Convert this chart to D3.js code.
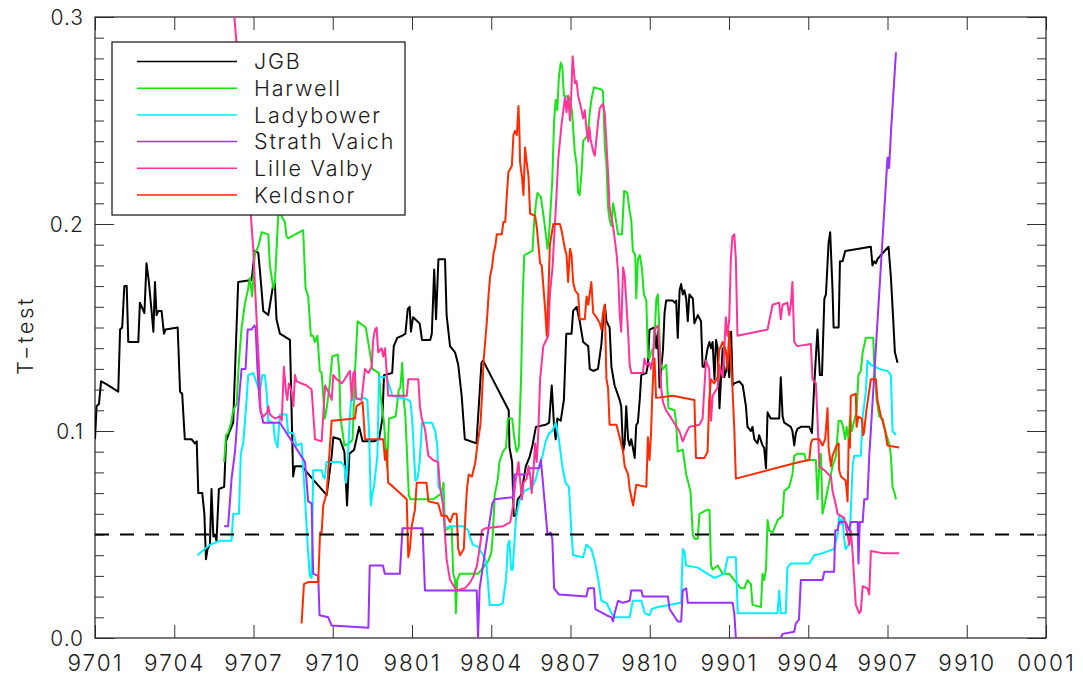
<!DOCTYPE html>
<html>
<head>
<meta charset="utf-8">
<script src="https://cdn.jsdelivr.net/npm/d3@7"></script>
<style>
  body { margin: 0; background: #fff; }
  svg text { font-family: Inter, "DejaVu Sans", sans-serif; font-weight: 300; fill: #1a1a1a; }
</style>
</head>
<body>
<svg id="chart"></svg>
<script>
// months counted from Jan 1997, T-test values
const tickMonths = [0, 3, 6, 9, 12, 15, 18, 21, 24, 27, 30, 33, 36];
const tickLabels = ["9701", "9704", "9707", "9710", "9801", "9804", "9807", "9810", "9901", "9904", "9907", "9910", "0001"];
const yMajor = [0, 0.1, 0.2, 0.3];
const threshold = 0.05;

const seriesNames = ["JGB", "Harwell", "Ladybower", "Strath Vaich", "Lille Valby", "Keldsnor"];
const seriesColors = ["#000000", "#18e418", "#00f0ff", "#9b30ff", "#ff3399", "#ff2a00"];

const jgb = [[0,0.096],[0.06,0.112],[0.15,0.113],[0.23,0.124],[0.38,0.123],[0.88,0.119],[0.95,0.149],[1.03,0.150],[1.11,0.170],[1.2,0.170],[1.26,0.143],[1.64,0.143],[1.7,0.162],[1.87,0.157],[1.95,0.181],[2.04,0.172],[2.12,0.161],[2.21,0.148],[2.27,0.172],[2.33,0.156],[2.4,0.158],[2.52,0.158],[2.61,0.147],[2.67,0.149],[3.13,0.150],[3.22,0.119],[3.3,0.118],[3.4,0.096],[3.66,0.096],[3.78,0.094],[3.85,0.095],[3.91,0.070],[4.06,0.070],[4.14,0.060],[4.2,0.038],[4.26,0.043],[4.35,0.045],[4.41,0.072],[4.48,0.049],[4.54,0.050],[4.6,0.047],[4.69,0.072],[4.89,0.073],[4.96,0.095],[5.1,0.100],[5.23,0.104],[5.42,0.172],[5.93,0.173],[6.05,0.187],[6.18,0.186],[6.24,0.178],[6.37,0.158],[6.56,0.156],[6.75,0.171],[6.81,0.171],[6.87,0.154],[7.0,0.147],[7.38,0.144],[7.5,0.078],[7.57,0.083],[7.82,0.083],[8.77,0.069],[8.96,0.088],[9.02,0.097],[9.27,0.096],[9.44,0.090],[9.54,0.064],[9.63,0.089],[9.81,0.091],[10.0,0.102],[10.13,0.095],[10.56,0.095],[10.75,0.096],[10.88,0.106],[10.94,0.127],[11.25,0.128],[11.31,0.141],[11.44,0.145],[11.63,0.146],[11.75,0.147],[11.84,0.159],[11.91,0.160],[11.96,0.148],[12.04,0.155],[12.29,0.152],[12.38,0.144],[12.69,0.144],[12.75,0.147],[12.84,0.178],[12.91,0.154],[13.0,0.183],[13.25,0.183],[13.31,0.156],[13.44,0.141],[13.63,0.138],[13.75,0.132],[13.88,0.117],[14.0,0.096],[14.44,0.094],[14.63,0.133],[14.69,0.134],[15.66,0.110],[15.69,0.092],[15.79,0.085],[15.85,0.059],[15.94,0.059],[16.0,0.067],[16.13,0.069],[16.31,0.083],[16.44,0.087],[16.56,0.093],[16.69,0.102],[17.06,0.103],[17.19,0.104],[17.29,0.122],[17.38,0.102],[17.44,0.096],[17.5,0.106],[17.63,0.105],[17.75,0.115],[17.84,0.147],[18.04,0.147],[18.1,0.158],[18.23,0.160],[18.35,0.153],[18.48,0.143],[18.67,0.141],[18.73,0.130],[18.86,0.129],[19.04,0.130],[19.17,0.142],[19.23,0.153],[19.3,0.161],[19.36,0.153],[19.48,0.150],[19.55,0.131],[19.67,0.122],[19.86,0.115],[19.92,0.112],[19.99,0.090],[20.05,0.094],[20.11,0.112],[20.18,0.096],[20.24,0.093],[20.3,0.096],[20.36,0.092],[20.43,0.087],[20.49,0.103],[20.55,0.104],[20.62,0.115],[20.68,0.127],[20.87,0.128],[20.93,0.132],[20.99,0.149],[21.18,0.150],[21.25,0.140],[21.31,0.148],[21.37,0.121],[21.43,0.130],[21.5,0.139],[21.56,0.157],[21.62,0.163],[21.87,0.163],[21.94,0.162],[22.0,0.163],[22.06,0.145],[22.13,0.168],[22.19,0.171],[22.25,0.166],[22.31,0.168],[22.38,0.164],[22.44,0.153],[22.5,0.166],[22.63,0.164],[22.69,0.152],[22.82,0.156],[22.94,0.153],[23.0,0.131],[23.07,0.131],[23.19,0.140],[23.26,0.143],[23.32,0.140],[23.38,0.143],[23.45,0.125],[23.51,0.144],[23.57,0.140],[23.64,0.111],[23.7,0.126],[23.76,0.140],[23.82,0.126],[23.89,0.129],[23.95,0.134],[24.01,0.126],[24.08,0.148],[24.14,0.122],[24.2,0.123],[24.39,0.124],[24.52,0.122],[24.64,0.112],[24.7,0.102],[24.83,0.100],[24.89,0.102],[24.96,0.096],[25.08,0.094],[25.14,0.098],[25.27,0.093],[25.33,0.092],[25.4,0.082],[25.46,0.109],[25.58,0.106],[25.9,0.106],[25.96,0.126],[26.03,0.107],[26.09,0.104],[26.34,0.102],[26.4,0.100],[26.47,0.093],[26.53,0.099],[26.59,0.101],[26.72,0.102],[27.04,0.102],[27.14,0.099],[27.23,0.123],[27.35,0.149],[27.44,0.127],[27.52,0.127],[27.61,0.164],[27.67,0.166],[27.77,0.191],[27.83,0.196],[27.92,0.168],[27.96,0.150],[28.15,0.150],[28.2,0.182],[28.3,0.182],[28.4,0.187],[29.37,0.189],[29.43,0.180],[29.5,0.182],[29.56,0.181],[29.62,0.183],[29.75,0.185],[30.04,0.189],[30.13,0.174],[30.22,0.153],[30.28,0.138],[30.38,0.133]];

const harwell = [[4.89,0.085],[4.96,0.098],[5.04,0.099],[5.15,0.104],[5.23,0.110],[5.36,0.113],[5.45,0.134],[5.55,0.150],[5.67,0.161],[5.8,0.169],[5.86,0.174],[5.95,0.165],[6.05,0.186],[6.18,0.189],[6.31,0.196],[6.56,0.195],[6.62,0.180],[6.75,0.169],[6.81,0.172],[6.94,0.205],[7.0,0.207],[7.09,0.203],[7.19,0.201],[7.25,0.194],[7.31,0.193],[7.88,0.197],[7.97,0.169],[8.07,0.165],[8.17,0.146],[8.26,0.146],[8.32,0.143],[8.42,0.146],[8.51,0.129],[8.58,0.128],[8.7,0.106],[8.76,0.110],[8.89,0.123],[8.98,0.136],[9.19,0.137],[9.25,0.128],[9.29,0.107],[9.44,0.093],[9.63,0.094],[9.75,0.096],[9.84,0.128],[9.94,0.153],[10.25,0.150],[10.38,0.140],[10.5,0.130],[10.75,0.128],[10.81,0.117],[10.94,0.104],[11.06,0.082],[11.13,0.106],[11.38,0.107],[11.5,0.120],[11.56,0.121],[11.63,0.133],[11.69,0.115],[11.75,0.107],[11.88,0.069],[11.94,0.067],[12.81,0.067],[13.13,0.070],[13.19,0.075],[13.25,0.052],[13.5,0.054],[13.56,0.031],[13.63,0.028],[13.66,0.012],[13.71,0.028],[13.81,0.031],[14.5,0.031],[14.69,0.034],[14.88,0.037],[15.0,0.041],[15.06,0.050],[15.13,0.069],[15.25,0.077],[15.31,0.085],[15.44,0.090],[15.56,0.092],[15.63,0.106],[15.79,0.106],[15.88,0.096],[15.96,0.090],[16.04,0.092],[16.13,0.126],[16.19,0.164],[16.25,0.185],[16.56,0.187],[16.63,0.202],[16.69,0.210],[16.75,0.215],[16.88,0.213],[17.0,0.202],[17.13,0.188],[17.19,0.195],[17.31,0.221],[17.38,0.250],[17.44,0.260],[17.5,0.255],[17.56,0.271],[17.63,0.278],[17.69,0.276],[17.75,0.262],[17.97,0.261],[18.06,0.254],[18.16,0.235],[18.23,0.229],[18.29,0.215],[18.35,0.214],[18.42,0.225],[18.48,0.240],[18.6,0.242],[18.67,0.245],[18.73,0.254],[18.79,0.260],[18.89,0.266],[19.17,0.265],[19.23,0.264],[19.3,0.237],[19.36,0.229],[19.42,0.208],[19.48,0.202],[19.55,0.199],[19.61,0.210],[19.67,0.206],[19.8,0.195],[19.95,0.195],[20.03,0.216],[20.15,0.215],[20.24,0.206],[20.3,0.202],[20.36,0.187],[20.45,0.185],[20.49,0.164],[20.55,0.183],[20.62,0.185],[20.7,0.179],[20.78,0.166],[20.87,0.163],[20.93,0.136],[20.99,0.135],[21.08,0.139],[21.16,0.140],[21.25,0.164],[21.31,0.166],[21.41,0.132],[21.5,0.130],[21.62,0.132],[21.71,0.111],[21.94,0.110],[22.0,0.104],[22.06,0.090],[22.25,0.091],[22.38,0.079],[22.54,0.071],[22.63,0.050],[22.69,0.048],[22.82,0.048],[22.88,0.060],[23.19,0.062],[23.26,0.062],[23.32,0.035],[23.38,0.033],[23.57,0.035],[23.76,0.031],[24.01,0.031],[24.2,0.028],[24.45,0.024],[24.58,0.024],[24.7,0.028],[24.83,0.026],[24.89,0.016],[25.21,0.015],[25.27,0.031],[25.33,0.028],[25.4,0.033],[25.46,0.057],[25.52,0.052],[25.65,0.051],[25.84,0.057],[26.03,0.059],[26.09,0.071],[26.28,0.073],[26.4,0.079],[26.47,0.088],[26.59,0.089],[26.85,0.089],[26.91,0.086],[27.29,0.086],[27.35,0.067],[27.44,0.088],[27.48,0.089],[27.54,0.060],[27.61,0.064],[27.79,0.075],[27.92,0.083],[28.05,0.088],[28.15,0.105],[28.24,0.105],[28.3,0.103],[28.4,0.096],[28.45,0.102],[28.53,0.096],[28.58,0.107],[28.65,0.100],[28.78,0.107],[28.83,0.109],[28.9,0.127],[28.99,0.129],[29.06,0.138],[29.18,0.145],[29.46,0.145],[29.5,0.132],[29.59,0.115],[29.69,0.107],[29.81,0.106],[29.96,0.098],[30.06,0.094],[30.13,0.088],[30.19,0.073],[30.25,0.071],[30.32,0.067]];

const ladybower = [[3.88,0.040],[4.35,0.045],[4.73,0.047],[5.17,0.047],[5.23,0.060],[5.45,0.060],[5.52,0.089],[5.61,0.094],[5.74,0.115],[5.8,0.127],[5.99,0.128],[6.18,0.121],[6.24,0.118],[6.33,0.127],[6.43,0.127],[6.49,0.120],[6.56,0.105],[6.75,0.104],[6.81,0.096],[6.91,0.092],[7.0,0.108],[7.25,0.108],[7.31,0.099],[7.5,0.099],[7.63,0.093],[7.82,0.094],[7.94,0.070],[8.05,0.045],[8.13,0.030],[8.2,0.029],[8.26,0.081],[8.58,0.081],[8.64,0.078],[8.7,0.077],[8.76,0.085],[9.31,0.085],[9.44,0.083],[9.5,0.075],[9.56,0.084],[9.63,0.102],[9.69,0.115],[10.19,0.116],[10.31,0.115],[10.38,0.098],[10.44,0.064],[10.5,0.070],[10.56,0.073],[10.69,0.088],[10.75,0.126],[11.0,0.126],[11.06,0.125],[11.19,0.120],[11.25,0.117],[11.88,0.115],[11.94,0.114],[12.0,0.107],[12.13,0.076],[12.21,0.077],[12.29,0.085],[12.38,0.104],[12.75,0.104],[12.88,0.100],[12.96,0.092],[13.0,0.073],[13.13,0.071],[13.19,0.062],[13.25,0.053],[13.44,0.054],[13.94,0.054],[14.13,0.052],[14.19,0.049],[14.31,0.045],[14.5,0.044],[14.69,0.040],[14.81,0.037],[14.88,0.026],[14.94,0.016],[15.31,0.016],[15.44,0.017],[15.5,0.023],[15.56,0.028],[15.63,0.045],[15.69,0.047],[15.75,0.033],[15.81,0.033],[15.88,0.047],[15.94,0.058],[16.06,0.066],[16.25,0.071],[16.56,0.073],[16.69,0.077],[16.81,0.083],[16.94,0.088],[17.06,0.095],[17.19,0.099],[17.31,0.100],[17.44,0.104],[17.56,0.096],[17.69,0.083],[17.81,0.075],[17.94,0.073],[18.04,0.050],[18.1,0.040],[18.48,0.039],[18.6,0.045],[18.79,0.043],[18.92,0.037],[19.04,0.029],[19.17,0.018],[19.36,0.017],[19.55,0.012],[19.67,0.010],[20.24,0.010],[20.3,0.014],[20.36,0.018],[20.68,0.018],[20.81,0.012],[20.99,0.011],[21.08,0.014],[21.31,0.015],[22.19,0.017],[22.25,0.043],[22.31,0.042],[22.38,0.035],[22.82,0.034],[23.19,0.031],[23.45,0.029],[23.82,0.031],[23.95,0.039],[24.26,0.039],[24.33,0.012],[25.84,0.012],[25.9,0.023],[25.96,0.012],[26.15,0.012],[26.21,0.034],[26.34,0.036],[27.04,0.036],[27.23,0.040],[27.54,0.041],[27.98,0.043],[28.05,0.047],[28.11,0.050],[28.17,0.059],[28.24,0.055],[28.3,0.058],[28.36,0.048],[28.42,0.043],[28.53,0.045],[28.58,0.052],[28.68,0.083],[28.74,0.088],[28.99,0.088],[29.06,0.107],[29.18,0.119],[29.24,0.134],[29.37,0.132],[29.69,0.130],[30.0,0.129],[30.13,0.127],[30.19,0.100],[30.32,0.098]];

const strathVaich = [[4.89,0.054],[5.04,0.054],[5.17,0.077],[5.3,0.090],[5.42,0.111],[5.55,0.130],[5.7,0.130],[5.78,0.149],[5.93,0.149],[6.03,0.151],[6.08,0.150],[6.15,0.130],[6.24,0.112],[6.37,0.104],[7.0,0.104],[7.95,0.085],[8.07,0.066],[8.2,0.065],[8.26,0.031],[8.45,0.030],[8.5,0.011],[8.83,0.010],[8.96,0.006],[10.35,0.005],[10.4,0.035],[10.9,0.035],[10.97,0.031],[11.54,0.031],[11.64,0.053],[12.4,0.053],[12.49,0.023],[14.45,0.023],[14.5,0.0],[14.56,0.024],[15.04,0.065],[15.13,0.067],[15.81,0.068],[15.88,0.079],[16.38,0.079],[16.44,0.082],[16.81,0.082],[16.88,0.086],[17.13,0.050],[17.25,0.051],[17.31,0.048],[17.38,0.024],[17.56,0.021],[18.6,0.020],[18.67,0.024],[18.89,0.024],[18.94,0.014],[19.36,0.011],[19.55,0.010],[19.61,0.008],[19.67,0.012],[19.8,0.018],[19.99,0.017],[20.24,0.018],[20.3,0.023],[20.68,0.023],[20.74,0.020],[21.69,0.020],[21.75,0.014],[22.06,0.008],[22.19,0.008],[22.25,0.023],[22.38,0.024],[22.44,0.017],[24.14,0.017],[24.2,0.012],[24.26,0.0],[25.96,0.0],[26.03,0.002],[26.47,0.003],[26.53,0.007],[26.65,0.009],[26.72,0.028],[27.54,0.028],[27.61,0.032],[27.98,0.032],[28.02,0.052],[28.11,0.052],[28.17,0.056],[28.42,0.056],[28.55,0.052],[28.61,0.056],[28.87,0.056],[28.9,0.036],[28.95,0.056],[29.06,0.056],[29.12,0.067],[29.24,0.067],[29.31,0.088],[30.0,0.232],[30.04,0.232],[30.06,0.227],[30.13,0.244],[30.32,0.283]];

const lilleValby = [[5.2,0.312],[5.34,0.290],[5.89,0.206],[5.99,0.188],[6.06,0.169],[6.14,0.148],[6.22,0.128],[6.27,0.109],[6.37,0.107],[6.52,0.109],[6.56,0.112],[6.62,0.108],[6.81,0.106],[7.0,0.107],[7.07,0.105],[7.15,0.131],[7.23,0.119],[7.28,0.115],[7.34,0.123],[7.44,0.119],[7.51,0.112],[7.57,0.127],[7.63,0.124],[8.01,0.122],[8.2,0.120],[8.33,0.096],[8.58,0.095],[8.71,0.122],[8.83,0.119],[8.96,0.115],[9.02,0.127],[9.15,0.125],[9.34,0.123],[9.46,0.125],[9.59,0.128],[9.65,0.129],[9.72,0.115],[9.78,0.128],[9.84,0.129],[9.88,0.116],[10.09,0.115],[10.22,0.130],[10.35,0.128],[10.47,0.131],[10.53,0.144],[10.6,0.149],[10.66,0.150],[10.72,0.138],[10.85,0.140],[10.91,0.136],[10.98,0.140],[11.1,0.117],[11.8,0.117],[11.86,0.125],[12.24,0.125],[12.3,0.112],[12.37,0.106],[12.49,0.101],[12.62,0.088],[12.8,0.086],[12.99,0.085],[13.06,0.073],[13.18,0.064],[13.31,0.038],[13.44,0.028],[13.69,0.023],[14.0,0.024],[14.21,0.027],[14.33,0.030],[14.46,0.035],[14.59,0.046],[14.65,0.052],[14.77,0.053],[15.46,0.054],[15.72,0.056],[15.84,0.065],[15.9,0.074],[16.03,0.085],[16.16,0.067],[16.22,0.075],[16.34,0.077],[16.41,0.083],[16.47,0.079],[16.53,0.070],[16.6,0.081],[16.66,0.094],[16.72,0.085],[16.78,0.099],[16.85,0.125],[16.97,0.141],[17.16,0.146],[17.22,0.166],[17.32,0.179],[17.41,0.200],[17.47,0.214],[17.54,0.232],[17.66,0.248],[17.79,0.261],[17.85,0.254],[17.91,0.262],[17.98,0.250],[18.04,0.266],[18.08,0.281],[18.17,0.268],[18.23,0.269],[18.29,0.262],[18.42,0.255],[18.48,0.251],[18.54,0.255],[18.61,0.245],[18.67,0.240],[18.71,0.247],[18.76,0.241],[18.86,0.235],[18.92,0.233],[18.98,0.241],[19.05,0.250],[19.11,0.256],[19.23,0.258],[19.3,0.253],[19.36,0.239],[19.42,0.225],[19.48,0.208],[19.61,0.199],[19.74,0.186],[19.8,0.177],[19.86,0.157],[19.92,0.148],[19.99,0.179],[20.05,0.175],[20.11,0.163],[20.18,0.148],[20.24,0.132],[20.3,0.128],[20.74,0.128],[20.8,0.135],[20.87,0.132],[20.99,0.133],[21.05,0.130],[21.12,0.135],[21.18,0.149],[21.31,0.151],[21.37,0.139],[21.43,0.121],[21.5,0.114],[21.62,0.110],[21.87,0.105],[22.12,0.100],[22.25,0.095],[22.38,0.099],[22.5,0.102],[22.88,0.103],[23.0,0.106],[23.13,0.134],[23.25,0.130],[23.32,0.105],[23.38,0.117],[23.57,0.121],[23.63,0.132],[23.76,0.126],[23.82,0.139],[23.88,0.155],[23.94,0.146],[24.01,0.154],[24.07,0.183],[24.13,0.194],[24.2,0.195],[24.26,0.183],[24.32,0.146],[25.46,0.149],[25.65,0.161],[25.9,0.162],[25.96,0.154],[26.03,0.161],[26.21,0.162],[26.28,0.156],[26.34,0.161],[26.4,0.172],[26.47,0.143],[26.59,0.141],[27.1,0.142],[27.16,0.125],[27.29,0.123],[27.35,0.106],[27.42,0.083],[27.61,0.081],[27.86,0.078],[27.92,0.071],[28.05,0.064],[28.11,0.060],[28.36,0.058],[28.49,0.050],[28.55,0.045],[28.61,0.052],[28.68,0.041],[28.74,0.028],[28.8,0.016],[28.93,0.012],[28.99,0.013],[29.06,0.025],[29.24,0.024],[29.31,0.021],[29.37,0.042],[29.81,0.041],[30.44,0.041]];

const keldsnor = [[7.82,0.007],[7.91,0.026],[8.07,0.027],[8.45,0.027],[8.52,0.051],[8.58,0.051],[8.64,0.064],[8.77,0.070],[8.83,0.081],[8.96,0.105],[9.84,0.106],[9.9,0.112],[10.13,0.114],[10.22,0.096],[10.91,0.096],[10.98,0.086],[11.04,0.091],[11.1,0.075],[11.29,0.073],[11.8,0.067],[11.86,0.039],[11.92,0.043],[11.99,0.054],[12.11,0.062],[12.18,0.075],[12.55,0.075],[12.62,0.066],[12.99,0.065],[13.12,0.059],[13.31,0.059],[13.44,0.056],[13.56,0.060],[13.69,0.060],[13.75,0.043],[13.82,0.040],[13.96,0.043],[14.02,0.059],[14.08,0.072],[14.15,0.079],[14.27,0.078],[14.4,0.085],[14.46,0.092],[14.59,0.103],[14.65,0.117],[14.71,0.134],[14.77,0.143],[14.84,0.154],[14.9,0.166],[14.96,0.175],[15.03,0.179],[15.09,0.186],[15.15,0.189],[15.21,0.195],[15.4,0.195],[15.46,0.201],[15.53,0.201],[15.59,0.214],[15.65,0.225],[15.78,0.228],[15.84,0.243],[15.9,0.245],[15.97,0.243],[16.03,0.257],[16.07,0.243],[16.09,0.230],[16.16,0.223],[16.22,0.214],[16.28,0.237],[16.34,0.230],[16.41,0.223],[16.47,0.205],[16.66,0.204],[16.72,0.199],[16.85,0.181],[16.91,0.180],[17.04,0.159],[17.1,0.146],[17.16,0.166],[17.22,0.190],[17.35,0.200],[17.6,0.200],[17.66,0.197],[17.79,0.188],[17.85,0.185],[17.91,0.172],[17.98,0.188],[18.04,0.185],[18.1,0.172],[18.17,0.168],[18.29,0.166],[18.35,0.154],[18.54,0.154],[18.61,0.165],[18.67,0.161],[18.79,0.172],[18.86,0.157],[18.98,0.155],[19.11,0.152],[19.17,0.149],[19.23,0.157],[19.3,0.161],[19.36,0.125],[19.42,0.121],[19.48,0.103],[19.74,0.103],[19.86,0.097],[19.99,0.090],[20.05,0.083],[20.18,0.079],[20.24,0.072],[20.37,0.064],[20.49,0.074],[20.87,0.073],[20.93,0.097],[20.99,0.086],[21.05,0.099],[21.09,0.115],[21.14,0.130],[21.18,0.135],[21.24,0.116],[21.87,0.117],[22.69,0.115],[22.75,0.087],[23.07,0.087],[23.19,0.090],[23.25,0.115],[23.32,0.125],[23.44,0.123],[23.57,0.126],[23.63,0.139],[23.76,0.143],[23.88,0.139],[23.94,0.130],[24.01,0.148],[24.07,0.135],[24.13,0.121],[24.2,0.101],[24.26,0.077],[26.66,0.085],[27.04,0.086],[27.1,0.094],[27.16,0.096],[27.42,0.096],[27.54,0.093],[27.64,0.096],[27.73,0.111],[27.77,0.092],[27.86,0.083],[27.92,0.088],[28.07,0.093],[28.15,0.094],[28.17,0.081],[28.24,0.078],[28.42,0.076],[28.49,0.066],[28.53,0.096],[28.58,0.092],[28.61,0.117],[28.8,0.118],[28.83,0.102],[28.9,0.107],[29.03,0.106],[29.08,0.098],[29.12,0.100],[29.2,0.110],[29.37,0.125],[29.56,0.125],[29.62,0.115],[29.75,0.107],[29.81,0.105],[29.91,0.100],[30.0,0.093],[30.44,0.092]];

const allSeries = [jgb, harwell, ladybower, strathVaich, lilleValby, keldsnor];

const width = 1083, height = 676;
const margin = { top: 17, right: 37, bottom: 38, left: 95 };

const svg = d3.select("#chart").attr("width", width).attr("height", height);
svg.append("rect").attr("width", width).attr("height", height).attr("fill", "#fff");

const x = d3.scaleLinear().domain([0, 36]).range([margin.left, width - margin.right]);
const y = d3.scaleLinear().domain([0, 0.3]).range([height - margin.bottom, margin.top]);

svg.append("clipPath").attr("id", "plot-clip")
    .append("rect")
    .attr("x", x(0)).attr("y", y(0.3))
    .attr("width", x(36) - x(0)).attr("height", y(0) - y(0.3));

// axes, ticks drawn inward like the original
const axisColor = "#333";
function styleAxis(g) {
    g.select(".domain").remove();
    g.selectAll(".tick line").attr("stroke", axisColor).attr("stroke-width", 1);
    g.selectAll("text").attr("fill", "#1a1a1a").style("font-family", null);
}

const yMinor = d3.range(0, 31).map(i => i / 100);

svg.append("g").attr("transform", `translate(${x(0)},0)`)
    .call(d3.axisLeft(y).tickValues(yMinor).tickSize(-9).tickFormat(""))
    .call(styleAxis);
svg.append("g").attr("transform", `translate(${x(0)},0)`)
    .call(d3.axisLeft(y).tickValues(yMajor).tickSize(-19).tickPadding(11).tickFormat(d3.format(".1f")))
    .call(styleAxis)
    .call(g => g.selectAll("text").style("font-size", "21px").attr("dy", "0.36em").attr("letter-spacing", "1px"));

svg.append("g").attr("transform", `translate(${x(36)},0)`)
    .call(d3.axisRight(y).tickValues(yMinor).tickSize(-9).tickFormat(""))
    .call(styleAxis);
svg.append("g").attr("transform", `translate(${x(36)},0)`)
    .call(d3.axisRight(y).tickValues(yMajor).tickSize(-19).tickFormat(""))
    .call(styleAxis);

svg.append("g").attr("transform", `translate(0,${y(0)})`)
    .call(d3.axisBottom(x).tickValues(tickMonths).tickSize(-13).tickPadding(17)
        .tickFormat((d, i) => tickLabels[i]))
    .call(styleAxis)
    .call(g => g.selectAll("text").style("font-size", "22.5px").attr("letter-spacing", "2px"));
svg.append("g").attr("transform", `translate(0,${y(0.3)})`)
    .call(d3.axisTop(x).tickValues(tickMonths).tickSize(-13).tickFormat(""))
    .call(styleAxis);

// frame
svg.append("rect")
    .attr("x", x(0)).attr("y", y(0.3))
    .attr("width", x(36) - x(0)).attr("height", y(0) - y(0.3))
    .attr("fill", "none").attr("stroke", "#222").attr("stroke-width", 1.2);

svg.append("text")
    .attr("transform", `translate(33,${(y(0) + y(0.3)) / 2 + 8}) rotate(-90)`)
    .attr("text-anchor", "middle")
    .style("font-size", "22px")
    .attr("letter-spacing", "2.5px")
    .text("T\u2212test");

// data lines
const line = d3.line().x(d => x(d[0])).y(d => y(d[1]));
const plot = svg.append("g").attr("clip-path", "url(#plot-clip)");

plot.selectAll("path.series")
    .data(allSeries)
    .join("path")
    .attr("class", "series")
    .attr("d", line)
    .attr("fill", "none")
    .attr("stroke", (d, i) => seriesColors[i])
    .attr("stroke-width", 2)
    .attr("stroke-linejoin", "round");

// 0.05 significance line
plot.append("path")
    .attr("d", line([[0, threshold], [36, threshold]]))
    .attr("stroke", "#000")
    .attr("stroke-width", 2)
    .attr("stroke-dasharray", "14,11");

// legend
const legend = svg.append("g").attr("transform", "translate(112,42)");
legend.append("rect")
    .attr("width", 293).attr("height", 173)
    .attr("fill", "#fff").attr("stroke", "#111").attr("stroke-width", 1.2);

const rows = legend.selectAll("g.row")
    .data(seriesNames)
    .join("g")
    .attr("class", "row")
    .attr("transform", (d, i) => `translate(0,${19.5 + i * 26.7})`);

rows.append("line")
    .attr("x1", 25).attr("x2", 125)
    .attr("stroke", (d, i) => seriesColors[i])
    .attr("stroke-width", 1.5);

rows.append("text")
    .attr("x", 142).attr("dy", "0.36em")
    .style("font-size", "21.5px")
    .attr("letter-spacing", "1.8px")
    .text(d => d);
</script>
</body>
</html>
